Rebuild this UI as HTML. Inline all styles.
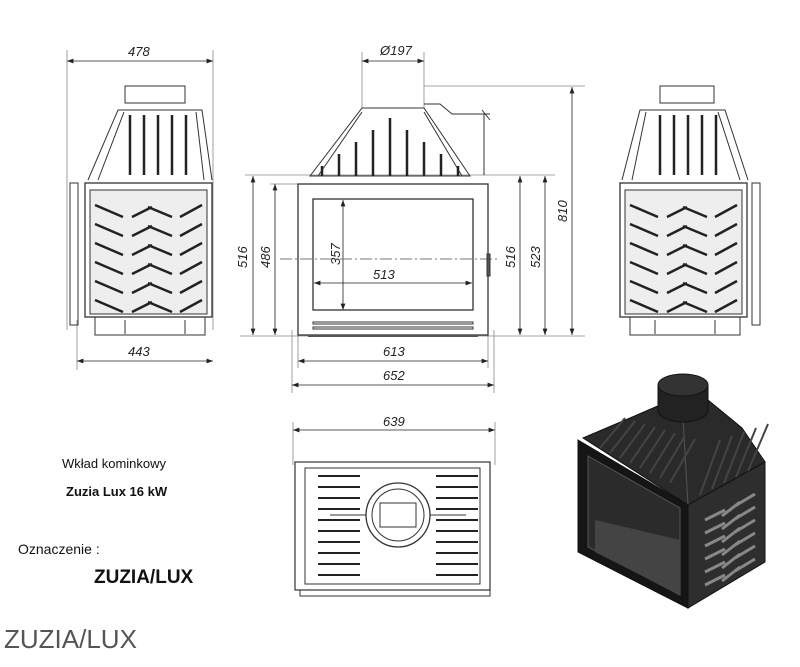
<!DOCTYPE html>
<html><head><meta charset="utf-8"><style>
body{margin:0;background:#fff;width:800px;height:667px;overflow:hidden}
svg{display:block}
text{font-family:"Liberation Sans",sans-serif}
.d{font-style:italic;font-size:13px;fill:#222}
</style></head><body>
<svg id="s" width="800" height="667" viewBox="0 0 800 667" stroke="#333" fill="none" stroke-width="1">
<defs><marker id="a" markerWidth="8" markerHeight="6" refX="8" refY="3" orient="auto-start-reverse"><path d="M0,0L8,3L0,6z" fill="#222" stroke="none"/></marker></defs>
<g stroke="#888" stroke-width="0.8">
<line x1="67" y1="50" x2="67" y2="330"/><line x1="213" y1="50" x2="213" y2="330"/>
<line x1="77" y1="320" x2="77" y2="370"/>
<line x1="362" y1="52" x2="362" y2="108"/><line x1="424" y1="52" x2="424" y2="108"/>
<line x1="424" y1="86" x2="585" y2="86"/>
<line x1="245" y1="175" x2="555" y2="175"/><line x1="240" y1="336" x2="585" y2="336"/>
<line x1="270" y1="184" x2="298" y2="184"/>
<line x1="292" y1="330" x2="292" y2="393"/><line x1="494" y1="330" x2="494" y2="393"/>
<line x1="298" y1="330" x2="298" y2="368"/><line x1="488" y1="330" x2="488" y2="368"/>
<line x1="293" y1="422" x2="293" y2="465"/><line x1="495" y1="422" x2="495" y2="465"/>
</g>
<g stroke="#222" stroke-width="0.8" marker-start="url(#a)" marker-end="url(#a)">
<line x1="67" y1="61" x2="213" y2="61"/><line x1="77" y1="361" x2="213" y2="361"/>
<line x1="362" y1="61" x2="424" y2="61"/>
<line x1="253" y1="176" x2="253" y2="335"/><line x1="275" y1="184" x2="275" y2="335"/>
<line x1="520" y1="176" x2="520" y2="335"/><line x1="545" y1="176" x2="545" y2="335"/>
<line x1="572" y1="87" x2="572" y2="335"/>
<line x1="298" y1="361" x2="488" y2="361"/><line x1="292" y1="385" x2="494" y2="385"/>
<line x1="314" y1="283" x2="472" y2="283"/><line x1="343" y1="200" x2="343" y2="310"/>
<line x1="293" y1="430" x2="495" y2="430"/>
</g>
<g class="d" stroke="none">
<text x="128" y="56" class="d">478</text><text x="128" y="356" class="d">443</text>
<text x="380" y="55" class="d">Ø197</text>
<text x="373" y="279" class="d">513</text><text x="383" y="356" class="d">613</text><text x="383" y="380" class="d">652</text>
<text x="383" y="426" class="d">639</text>
<text transform="translate(247,268) rotate(-90)" class="d">516</text>
<text transform="translate(270,268) rotate(-90)" class="d">486</text>
<text transform="translate(340,265) rotate(-90)" class="d">357</text>
<text transform="translate(515,268) rotate(-90)" class="d">516</text>
<text transform="translate(540,268) rotate(-90)" class="d">523</text>
<text transform="translate(567,222) rotate(-90)" class="d">810</text>
<text x="62" y="468" style="font-size:13px;font-style:normal" fill="#111">Wkład kominkowy</text>
<text x="66" y="496" style="font-size:13px;font-weight:bold;font-style:normal" fill="#111">Zuzia Lux 16 kW</text>
<text x="18" y="554" style="font-size:14px;font-style:normal" fill="#111">Oznaczenie :</text>
<text x="94" y="583" style="font-size:19px;font-weight:bold;font-style:normal" fill="#111">ZUZIA/LUX</text>
<text x="4" y="648" style="font-size:26px;font-style:normal;font-weight:300" fill="#555">ZUZIA/LUX</text>
</g>
<line x1="280" y1="259" x2="500" y2="259" stroke="#777" stroke-dasharray="12,3,2,3"/>
<!-- front view -->
<rect x="298" y="184" width="190" height="151" stroke-width="1.3"/>
<rect x="313" y="199" width="160" height="111" stroke-width="1.3"/>
<rect x="313" y="322" width="160" height="2"/><rect x="313" y="327" width="160" height="2"/>
<path d="M310,176 L362,108 L424,108 L470,176 Z M318,176 L362,112 M462,176 L424,112" />
<rect x="487" y="254" width="3" height="22" fill="#555"/>
<path d="M424,104 L440,104 L452,114 L490,114 M482,110 L490,120 M484,114 L484,175"/>
<rect x="308" y="335" width="170" height="2" fill="#555" stroke="none"/>
<g id="fbars" stroke-width="2.5" stroke="#222"></g>
<!-- left view -->
<rect x="125" y="86" width="60" height="17"/>
<path d="M88,180 L118,110 L202,110 L212,180 M98,180 L124,112 M204,180 L196,112"/>
<rect x="85" y="183" width="127" height="134" stroke-width="1.3"/>
<rect x="90" y="190" width="117" height="124" fill="#eee"/>
<rect x="70" y="183" width="8" height="142"/>
<path d="M95,317 L95,335 L205,335 L205,317 M125,320 L125,334 M185,320 L185,334"/>
<g id="lbars" stroke-width="2.5" stroke="#222"></g>
<!-- right view -->
<rect x="660" y="86" width="54" height="17"/>
<path d="M622,180 L640,110 L725,110 L748,180 M632,180 L646,112 M740,180 L718,112"/>
<rect x="620" y="183" width="127" height="134" stroke-width="1.3"/>
<rect x="625" y="190" width="117" height="124" fill="#eee"/>
<rect x="752" y="183" width="8" height="142"/>
<path d="M630,317 L630,335 L740,335 L740,317 M655,320 L655,334 M715,320 L715,334"/>
<g id="rbars" stroke-width="2.5" stroke="#222"></g>
<!-- bottom view -->
<rect x="295" y="462" width="195" height="128" stroke-width="1.2"/>
<rect x="305" y="468" width="175" height="116"/>
<circle cx="398" cy="515" r="32" stroke-width="1.3"/><circle cx="398" cy="515" r="26"/>
<rect x="380" y="503" width="36" height="24"/>
<line x1="330" y1="515" x2="366" y2="515"/><line x1="430" y1="515" x2="466" y2="515"/>
<rect x="300" y="590" width="190" height="6"/>
<g id="bbars" stroke-width="2" stroke="#222"></g>
<!-- 3D -->
<g stroke="#111">
<path d="M583,438 L630,418 L660,405 L708,400 L742,428 L765,462 L688,505 Z" fill="#2a2a2a"/>
<path d="M683,418 L688,505" stroke="#555"/>
<path d="M578,440 L688,505 L688,608 L578,552 Z" fill="#151515"/>
<path d="M588,456 L680,508 L680,595 L588,547 Z" fill="#2b2b2b" stroke="#555"/>
<path d="M595,520 L680,540 L680,595 L595,552 Z" fill="#444" stroke="none"/>
<path d="M688,505 L765,462 L765,562 L688,608 Z" fill="#2e2e2e"/>
<path d="M658,385 L658,410 A25,12 0 0 0 708,410 L708,385 Z" fill="#222"/>
<ellipse cx="683" cy="385" rx="25" ry="11" fill="#333"/>
</g>
<g id="hbars" stroke="#444" stroke-width="2"></g>
<g id="cbars" stroke="#888" stroke-width="3"></g>
</svg>
<script>
function L(g,x1,y1,x2,y2){var l=document.createElementNS("http://www.w3.org/2000/svg","line");l.setAttribute("x1",x1);l.setAttribute("y1",y1);l.setAttribute("x2",x2);l.setAttribute("y2",y2);document.getElementById(g).appendChild(l);}
for(var i=0;i<9;i++){var x=322+i*17;var t=Math.abs(i-4);L("fbars",x,118+t*12,x,176);}
function chev(g,ox){for(var r=0;r<6;r++){var y=205+r*19;L(g,ox+5,y,ox+33,y+12);L(g,ox+42,y+12,ox+62,y+2);L(g,ox+58,y+2,ox+82,y+12);L(g,ox+90,y+12,ox+112,y);}}
chev("lbars",90);chev("rbars",625);
for(var i=0;i<5;i++){L("lbars",130+i*14,115,130+i*14,175);L("rbars",660+i*14,115,660+i*14,175);}
for(var r=0;r<10;r++){var y=476+r*11;L("bbars",318,y,360,y);L("bbars",436,y,478,y);}
for(var i=0;i<8;i++){var x=600+i*10;L("hbars",x,448+i*5,x+25,418+i*3);}
for(var i=0;i<5;i++){var x=700+i*12;L("hbars",x,495-i*6,x+20,440-i*4);}
for(var r=0;r<6;r++){var y=520+r*13;L("cbars",705,y,725,y-10);L("cbars",735,y-14,755,y-26);L("cbars",722,y-4,740,y-18);}
</script>
</body></html>
